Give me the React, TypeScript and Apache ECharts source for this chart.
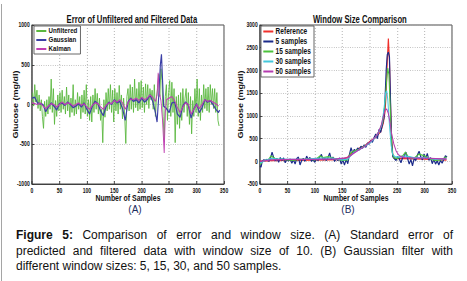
import React, { useEffect, useRef } from "react";
import * as echarts from "echarts";

const SANS = '"Liberation Sans", Arial, sans-serif';
// The figure is horizontally condensed; render the panels in a wider box and squeeze it.
const S = 0.77;
const W = 467 / S;
const px = (x: number) => x / S;

const titleA = "Error of Unfiltered and Filtered Data";
const titleB = "Window Size Comparison";
const xName = "Number of Samples";
const yName = "Glucose (mg/dl)";
const panelA = "(A)";
const panelB = "(B)";
const legendA = ["Unfiltered", "Gaussian", "Kalman"];
const legendB = ["Reference", "5 samples", "15 samples", "30 samples", "50 samples"];

const captionLines = [
  "Figure 5: Comparison of error and window size. (A) Standard error of",
  "predicted and filtered data with window size of 10. (B) Gaussian filter with",
  "different window sizes: 5, 15, 30, and 50 samples.",
];

// Panel A: unfiltered error, read at every 2nd sample starting at 1
const unfilteredStart = 1;
const unfilteredStep = 2;
const unfilteredY = [
  150, -20, 250, 30, 180,
  -50, 120, -80, 60, -150,
  -300, 40, -150, 60, -120,
  100, -60, 320, -100, 200,
  -250, 50, -150, 120, -80,
  150, -100, 180, -60, 100,
  -120, 220, -80, 120, -160,
  80, -100, 250, -140, 60,
  -120, 150, -60, 100, -180,
  120, -100, 180, -120, 250,
  -150, 60, -200, 100, -220,
  120, -100, 200, -60, 140,
  -120, 80, -200, -60, -480,
  60, -160, 150, -80, 200,
  -60, 250, -100, 180, -220,
  200, -80, 150, -120, 240,
  -60, 120, -180, 80, -150,
  -490, 100, 200, -80, 250,
  -60, 220, -100, 320, -40,
  200, -80, 280, -60, 300,
  -40, 220, -100, 260, 0,
  250, -50, 200, 60, 180,
  -60, 250, -150, 100, 200,
  380, 100, 450, 300, -150,
  -450, 100, 250, -200, 150,
  300, -150, 280, -100, 200,
  -480, 100, -250, 120, -300,
  150, -200, 200, -100, 80,
  200, -150, 150, -250, 100,
  -370, 50, -150, 200, -100,
  320, -150, 200, -200, 120,
  -100, 250, -50, 200, -80,
  220, -100, 250, 0, 200,
  -50, 200, -100, 150, -200,
  -270,
];

const gaussianX = [0, 5, 10, 15, 20, 25, 30, 35, 40, 45, 50, 55, 60, 65, 70, 75, 80, 85, 90, 95, 100, 105, 110, 115, 120, 125, 130, 135, 140, 145, 150, 155, 160, 165, 170, 175, 180, 185, 190, 195, 200, 205, 210, 215, 220, 225, 228, 231, 234, 236, 238, 240, 245, 250, 255, 260, 265, 270, 275, 280, 285, 290, 295, 300, 305, 310, 315, 320, 325, 330, 335, 340, 342];
const gaussianY = [80, 90, 20, 10, 0, -90, -30, 20, -20, -70, 10, 20, -10, 30, 0, -40, -20, 10, -30, 20, -60, -120, -20, 40, 10, -80, -140, -30, 30, 0, 60, 20, 40, -50, -200, 30, 80, 40, 60, 20, 80, 30, 60, 120, 40, -100, -220, 100, 500, 630, 300, -20, -50, -100, 20, 30, -120, -160, -20, 30, -10, -170, -60, 10, -100, -40, 60, 30, 50, 0, -60, -100, -70];

const kalmanX = [0, 5, 10, 15, 20, 25, 30, 35, 40, 45, 50, 55, 60, 65, 70, 75, 80, 85, 90, 95, 100, 105, 110, 115, 120, 125, 130, 135, 140, 145, 150, 155, 160, 165, 170, 175, 180, 185, 190, 195, 200, 205, 210, 215, 220, 225, 228, 230, 232, 235, 238, 241, 243, 245, 250, 255, 260, 265, 270, 275, 280, 285, 290, 295, 300, 305, 310, 315, 320, 325, 330, 335, 340];
const kalmanY = [20, 10, 0, 20, -20, -50, -20, 10, 0, -30, 0, 30, 0, 20, 10, -20, 0, 20, -10, 10, -30, -60, -10, 20, 10, -30, -60, -10, 20, 10, 50, 30, 60, 20, -60, 20, 70, 60, 80, 50, 90, 60, 80, 120, 90, 40, 120, 400, 150, 50, -200, -610, -100, 60, 80, 100, 50, -40, -100, -30, 20, 0, -120, -60, 0, -50, 0, 60, 40, 50, 30, 10, -20];

// Panel B
const referenceX = [0, 20, 50, 100, 150, 160, 170, 180, 190, 200, 210, 220, 225, 228, 230, 232, 234, 236, 238, 240, 242, 245, 260, 300, 340];
const referenceY = [0, 20, 25, 30, 40, 90, 200, 280, 330, 430, 520, 650, 850, 1100, 1500, 2200, 2700, 2200, 1200, 500, 150, 60, 60, 50, 30];

const win5X = [0, 2, 4, 7, 10, 13, 16, 19, 22, 25, 28, 31, 34, 37, 40, 43, 46, 49, 52, 55, 58, 61, 64, 67, 70, 73, 76, 79, 82, 85, 88, 91, 94, 97, 100, 103, 106, 109, 112, 115, 118, 121, 124, 127, 130, 133, 136, 139, 142, 145, 148, 151, 154, 157, 160, 163, 166, 169, 172, 175, 178, 181, 184, 187, 190, 193, 196, 199, 202, 205, 208, 211, 214, 217, 220, 223, 226, 228, 230, 232, 234, 236, 238, 240, 242, 245, 248, 251, 254, 257, 260, 263, 266, 269, 272, 275, 278, 281, 284, 287, 290, 293, 296, 299, 302, 305, 308, 311, 314, 317, 320, 323, 326, 329, 332, 335, 338, 341];
const win5Y = [-100, -130, 0, 30, 20, 40, 0, 60, 200, 80, 10, 60, -20, 80, 20, 70, -30, 40, 10, 50, -40, 30, -60, 60, 90, -80, 20, 60, 0, 110, 40, 80, 0, 40, -20, 60, 20, 100, 150, 30, 60, 20, 80, 180, 40, 90, 0, 60, 20, 70, -60, 30, -80, 40, -50, 150, 300, 180, 260, 220, 290, 250, 330, 290, 360, 310, 400, 380, 450, 420, 520, 600, 500, 700, 640, 800, 950, 1400, 2000, 2350, 2400, 2300, 1300, 400, 100, 60, 20, 100, 50, -30, 80, 120, 200, 60, -60, 40, -100, 60, 20, 140, 220, 100, 30, 160, 60, 170, 20, 80, -50, 40, -60, 10, -80, 20, -40, 40, 120, 90];

const win15X = [0, 5, 10, 15, 20, 25, 30, 40, 50, 60, 70, 80, 90, 100, 110, 115, 125, 130, 140, 150, 160, 165, 170, 180, 190, 200, 210, 218, 224, 228, 231, 233, 235, 237, 239, 241, 244, 250, 255, 260, 265, 270, 280, 290, 300, 310, 320, 330, 340];
const win15Y = [-80, 0, 20, 30, 120, 80, 40, 40, 30, 20, 40, 40, 50, 30, 120, 80, 100, 80, 50, 20, 30, 180, 220, 260, 330, 410, 530, 680, 880, 1300, 1800, 2050, 1900, 1300, 600, 200, 80, 60, 100, 120, 200, 100, 60, 160, 120, 50, 20, 30, 100];

const win30X = [0, 10, 20, 30, 50, 80, 110, 130, 150, 160, 170, 180, 190, 200, 210, 217, 222, 226, 229, 231, 233, 236, 239, 242, 246, 255, 265, 280, 300, 320, 340];
const win30Y = [-40, 20, 60, 50, 40, 40, 70, 70, 30, 50, 180, 250, 320, 400, 520, 650, 800, 1150, 1500, 1550, 1350, 800, 350, 150, 100, 90, 120, 80, 80, 40, 60];

const win50X = [0, 20, 60, 100, 140, 160, 170, 180, 190, 200, 210, 216, 221, 225, 228, 231, 234, 237, 240, 244, 248, 252, 257, 265, 280, 300, 320, 340];
const win50Y = [0, 30, 40, 40, 50, 80, 170, 250, 320, 420, 530, 640, 800, 1000, 1130, 1150, 1050, 850, 600, 380, 230, 150, 100, 80, 70, 70, 60, 50];

const colorsA = ["#5bb83f", "#3b3fa6", "#c03fb2"];
const colorsB = ["#f0302c", "#1b2a8a", "#4cc23c", "#45c8dc", "#b53cb0"];

const pairs = (xs: number[], ys: number[]) => ys.map((y, i) => [xs[i], y]);

const CAP_SIZE = 12;
const CAP_LEFT = 16;
const CAP_RIGHT = 453;
const CAP_Y = [235.5, 251, 266.5];

function buildCaption(): any[] {
  const canvas = document.createElement("canvas");
  const ctx = canvas.getContext("2d") as CanvasRenderingContext2D;
  const out: any[] = [];
  captionLines.forEach((line, li) => {
    const words = line.split(" ");
    const weights = words.map((_, wi) => (li === 0 && wi < 2 ? "bold" : "normal"));
    const widths = words.map((w, wi) => {
      ctx.font = `${weights[wi]} ${CAP_SIZE}px ${SANS}`;
      return ctx.measureText(w).width;
    });
    ctx.font = `normal ${CAP_SIZE}px ${SANS}`;
    const space = ctx.measureText(" ").width;
    const total = widths.reduce((a, b) => a + b, 0);
    const justify = li < captionLines.length - 1;
    const gap = justify ? (CAP_RIGHT - CAP_LEFT - total) / (words.length - 1) : space;
    let x = CAP_LEFT;
    words.forEach((w, wi) => {
      out.push({
        type: "text",
        x: px(x),
        y: CAP_Y[li],
        scaleX: 1 / S,
        style: {
          text: w,
          fontSize: CAP_SIZE,
          fontWeight: weights[wi],
          fontFamily: SANS,
          fill: "#111",
          verticalAlign: "middle",
          align: "left",
        },
      });
      x += widths[wi] + gap;
    });
  });
  return out;
}

const labelFmt = (v: number) => String(v);

function axisX(gridIndex: number) {
  return {
    type: "value",
    gridIndex,
    min: 0,
    max: 350,
    interval: 50,
    name: xName,
    nameLocation: "middle",
    nameGap: 10,
    nameMoveOverlap: false,
    nameTextStyle: { fontSize: 9, fontWeight: "bold", fontFamily: SANS, color: "#111" },
    axisLine: { onZero: false, lineStyle: { color: "#333", width: 1 } },
    axisTick: { inside: true, length: 3, lineStyle: { color: "#333" } },
    axisLabel: { fontSize: 6.5, fontWeight: "bold", fontFamily: SANS, color: "#111", margin: 3, formatter: labelFmt },
    splitLine: { show: true, lineStyle: { color: "#aaaaaa", type: [1, 2], width: 1 } },
  };
}

function axisY(gridIndex: number, min: number, max: number, gap: number) {
  return {
    type: "value",
    gridIndex,
    min,
    max,
    interval: 500,
    name: yName,
    nameLocation: "middle",
    nameGap: gap,
    nameMoveOverlap: false,
    nameTextStyle: { fontSize: 9, fontWeight: "bold", fontFamily: SANS, color: "#111" },
    axisLine: { show: true, onZero: false, lineStyle: { color: "#333", width: 1 } },
    axisTick: { show: true, inside: true, length: 3, lineStyle: { color: "#333" } },
    axisLabel: { fontSize: 6.5, fontWeight: "bold", fontFamily: SANS, color: "#111", margin: 3, formatter: labelFmt },
    splitLine: { show: true, lineStyle: { color: "#aaaaaa", type: [1, 2], width: 1 } },
  };
}

function lineSeries(name: string, data: number[][], color: string, width: number, axis: number) {
  return {
    type: "line",
    name,
    data,
    xAxisIndex: axis,
    yAxisIndex: axis,
    showSymbol: false,
    symbol: "none",
    lineStyle: { color, width },
    itemStyle: { color },
    z: 2,
  };
}

const legendCommon = {
  orient: "vertical",
  icon: "rect",
  itemWidth: 13,
  itemHeight: 2,
  itemGap: 1,
  padding: [1, 4, 1, 3],
  backgroundColor: "#fff",
  borderColor: "#555",
  borderWidth: 1,
  borderRadius: 0,
};

export default function App() {
  const ref = useRef<HTMLDivElement>(null);
  useEffect(() => {
    if (!ref.current) return;
    const chart = echarts.init(ref.current, null, { renderer: "svg" });
    const unfilteredData = unfilteredY.map((y, i) => [unfilteredStart + i * unfilteredStep, y]);
    chart.setOption({
      animation: false,
      backgroundColor: "#fff",
      title: [
        {
          text: titleA,
          left: px(128),
          top: 10,
          textAlign: "center",
          textStyle: { fontSize: 10, fontWeight: "bold", fontFamily: SANS, color: "#111" },
        },
        {
          text: titleB,
          left: px(356),
          top: 10,
          textAlign: "center",
          textStyle: { fontSize: 10, fontWeight: "bold", fontFamily: SANS, color: "#111" },
        },
      ],
      grid: [
        { left: px(32), top: 25, width: px(192), height: 159, show: true, borderColor: "#333", borderWidth: 1, backgroundColor: "transparent" },
        { left: px(260), top: 25, width: px(192), height: 159, show: true, borderColor: "#333", borderWidth: 1, backgroundColor: "transparent" },
      ],
      xAxis: [axisX(0), axisX(1)],
      yAxis: [axisY(0, -1000, 1000, px(12.5)), axisY(1, -500, 3000, px(15.5))],
      legend: [
        {
          ...legendCommon,
          left: px(34),
          top: 26,
          data: legendA,
          textStyle: { fontSize: 8, fontWeight: "bold", fontFamily: SANS, color: "#111", lineHeight: 8, padding: [0, 0, 0, -2] },
        },
        {
          ...legendCommon,
          left: px(261),
          top: 26,
          data: legendB,
          textStyle: { fontSize: 8.5, fontWeight: "bold", fontFamily: SANS, color: "#111", lineHeight: 8, padding: [0, 0, 0, -2] },
        },
      ],
      series: [
        lineSeries(legendA[0], unfilteredData, colorsA[0], 1, 0),
        lineSeries(legendA[1], pairs(gaussianX, gaussianY), colorsA[1], 1.5, 0),
        lineSeries(legendA[2], pairs(kalmanX, kalmanY), colorsA[2], 1.2, 0),
        lineSeries(legendB[0], pairs(referenceX, referenceY), colorsB[0], 1.5, 1),
        lineSeries(legendB[1], pairs(win5X, win5Y), colorsB[1], 1.5, 1),
        lineSeries(legendB[2], pairs(win15X, win15Y), colorsB[2], 1.3, 1),
        lineSeries(legendB[3], pairs(win30X, win30Y), colorsB[3], 1.3, 1),
        lineSeries(legendB[4], pairs(win50X, win50Y), colorsB[4], 1.3, 1),
      ],
      graphic: [
        { type: "line", shape: { x1: px(1.5), y1: 4, x2: px(1.5), y2: 281 }, style: { stroke: "#999", lineWidth: 1 } },
        { type: "text", x: px(135), y: 210, scaleX: 1 / S, style: { text: panelA, fontSize: 10, fontFamily: SANS, fill: "#1c2c5e", align: "center", verticalAlign: "middle" } },
        { type: "text", x: px(348), y: 210, scaleX: 1 / S, style: { text: panelB, fontSize: 10, fontFamily: SANS, fill: "#1c2c5e", align: "center", verticalAlign: "middle" } },
        ...buildCaption(),
      ],
    });
    return () => chart.dispose();
  }, []);
  return (
    <div
      ref={ref}
      style={{
        position: "absolute",
        left: 0,
        top: 0,
        width: W,
        height: 281,
        background: "#fff",
        transform: `scaleX(${S})`,
        transformOrigin: "0 0",
      }}
    />
  );
}
